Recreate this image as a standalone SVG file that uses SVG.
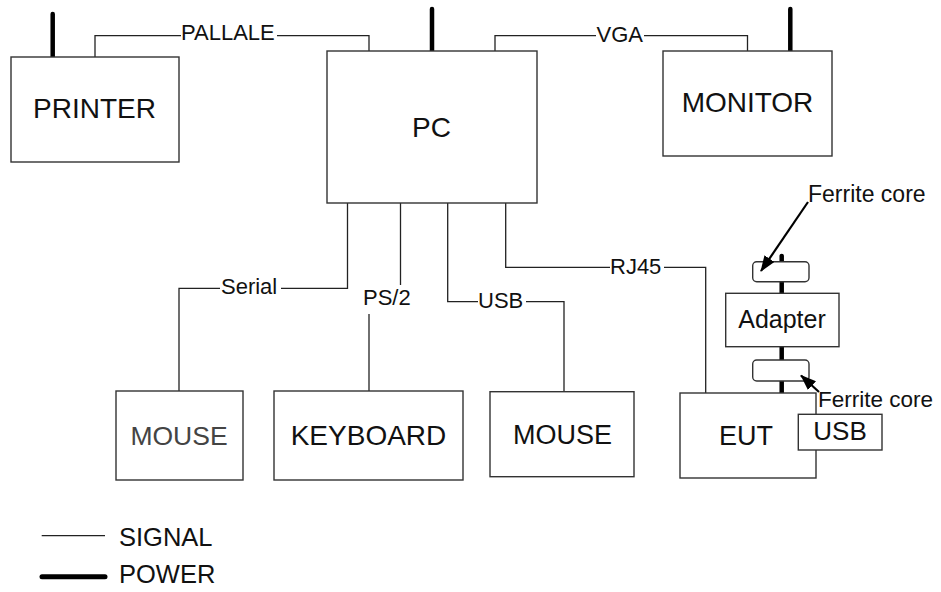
<svg xmlns="http://www.w3.org/2000/svg" width="941" height="592" viewBox="0 0 941 592">
<style>
.box{fill:#fff;stroke:#333;stroke-width:1.4}
.sig{fill:none;stroke:#222;stroke-width:1.3}
.pwr{fill:none;stroke:#000;stroke-width:4.5;stroke-linecap:round}
.t{font-family:"Liberation Sans",Arial,sans-serif;fill:#111}
.big{font-size:28px;text-anchor:middle}
.lbl{font-size:22px}
</style>
<defs>
<marker id="ah" viewBox="0 0 16 12" refX="15" refY="6" markerWidth="16" markerHeight="12" orient="auto" markerUnits="userSpaceOnUse">
<path d="M0,0 L16,6 L0,12 z" fill="#000"/>
</marker>
</defs>
<rect width="941" height="592" fill="#fff"/>
<g id="connectors">
<polyline class="sig" points="95,57 95,35.7 181,35.7"/>
<polyline class="sig" points="277,35.7 369,35.7 369,51"/>
<polyline class="sig" points="495,51 495,35.7 596,35.7"/>
<polyline class="sig" points="644,35.7 747.5,35.7 747.5,51"/>
<polyline class="sig" points="347.5,203 347.5,288.3 281,288.3"/>
<polyline class="sig" points="220,288.3 179,288.3 179,391"/>
<line class="sig" x1="400.5" y1="198" x2="400.5" y2="285"/>
<line class="sig" x1="369" y1="314" x2="369" y2="391"/>
<polyline class="sig" points="447.7,203 447.7,301.7 478,301.7"/>
<polyline class="sig" points="526,301.7 564,301.7 564,391.7"/>
<polyline class="sig" points="505.7,203 505.7,267.3 610,267.3"/>
<polyline class="sig" points="664,267.3 705.7,267.3 705.7,393"/>
<line class="pwr" x1="52.7" y1="14" x2="52.7" y2="57"/>
<line class="pwr" x1="432" y1="9" x2="432" y2="51"/>
<line class="pwr" x1="790.3" y1="9" x2="790.3" y2="51"/>
<line class="pwr" x1="781.7" y1="256" x2="781.7" y2="393"/>
<text class="t lbl" x="181" y="40">PALLALE</text>
<text class="t lbl" x="596.5" y="41.7">VGA</text>
<text class="t lbl" x="221" y="294.3">Serial</text>
<text class="t lbl" x="363" y="305">PS/2</text>
<text class="t lbl" x="478" y="308.3">USB</text>
<text class="t lbl" x="610" y="274">RJ45</text>
</g>
<g id="printer">
<rect class="box" x="11" y="57" width="168" height="105"/>
<text class="t big" x="94.5" y="118">PRINTER</text>
</g>
<g id="pc">
<rect class="box" x="327" y="51" width="210" height="152"/>
<text class="t big" x="431.5" y="137">PC</text>
</g>
<g id="monitor">
<rect class="box" x="663" y="51" width="169" height="105"/>
<text class="t big" x="747.5" y="112">MONITOR</text>
</g>
<g id="mouse1">
<rect class="box" x="116" y="391" width="127" height="89"/>
<text class="t big" x="179" y="445" style="font-size:26.5px;fill:#444">MOUSE</text>
</g>
<g id="keyboard">
<rect class="box" x="274" y="391" width="189" height="89"/>
<text class="t big" x="368.5" y="445">KEYBOARD</text>
</g>
<g id="mouse2">
<rect class="box" x="490" y="391.7" width="144" height="85"/>
<text class="t big" x="562.5" y="444" style="font-size:27px">MOUSE</text>
</g>
<g id="ferrite1">
<rect class="box" x="752.7" y="261.7" width="56.3" height="20" rx="4"/>
</g>
<g id="adapter">
<rect class="box" x="725.7" y="293.3" width="113.3" height="53.4"/>
<text class="t" x="782" y="328.3" style="font-size:25px;text-anchor:middle">Adapter</text>
</g>
<g id="ferrite2">
<rect class="box" x="752.7" y="360" width="56.3" height="21" rx="4"/>
</g>
<g id="eut">
<rect class="box" x="680" y="393" width="136" height="85"/>
<text class="t big" x="746" y="445" style="font-size:27px">EUT</text>
</g>
<g id="usb">
<rect class="box" x="798.3" y="414.3" width="83.7" height="35.7"/>
<text class="t" x="840" y="440" style="font-size:26px;text-anchor:middle">USB</text>
</g>
<g id="ferrite-labels">
<line x1="808" y1="202" x2="761" y2="271" stroke="#000" stroke-width="2.2" marker-end="url(#ah)"/>
<text class="t" x="808" y="202" style="font-size:23px">Ferrite core</text>
<line x1="819" y1="392" x2="801" y2="375.5" stroke="#000" stroke-width="2.2" marker-end="url(#ah)"/>
<text class="t" x="818" y="407" style="font-size:22.5px">Ferrite core</text>
</g>
<g id="legend">
<line x1="41.7" y1="535.7" x2="105" y2="535.7" stroke="#222" stroke-width="1.3"/>
<text class="t" x="119" y="546" style="font-size:25.5px">SIGNAL</text>
<line class="pwr" x1="42" y1="576.7" x2="105" y2="576.7" style="stroke-width:5"/>
<text class="t" x="119" y="583.3" style="font-size:25.5px">POWER</text>
</g>
</svg>
